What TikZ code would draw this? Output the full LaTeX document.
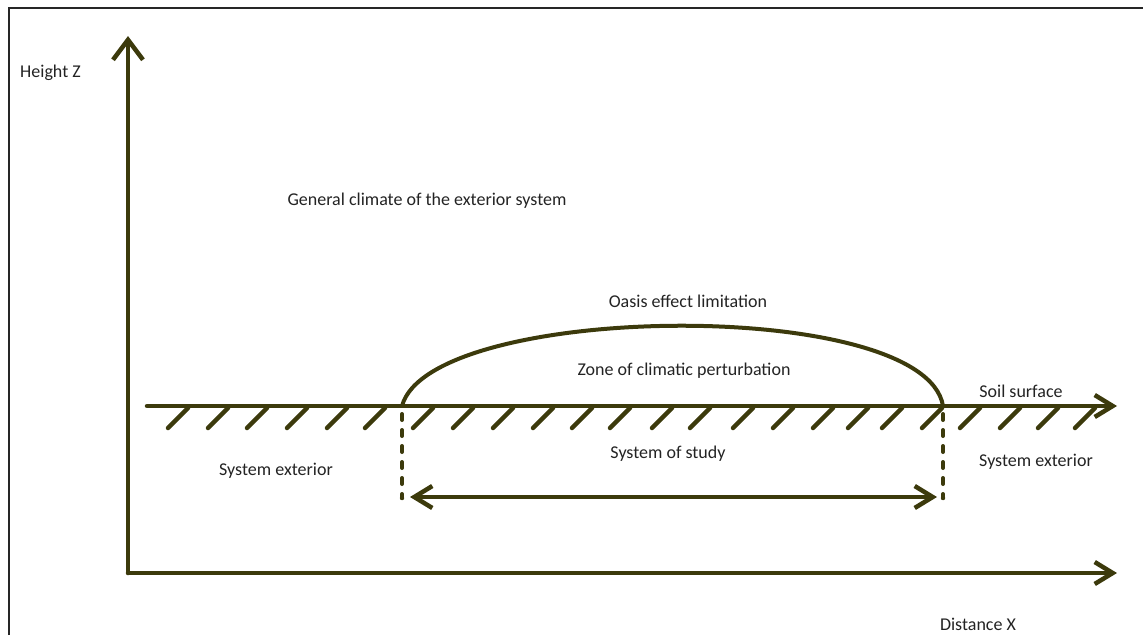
\documentclass[tikz,border=0pt]{standalone}
\usepackage{fontspec}
\setmainfont{Carlito}
\usetikzlibrary{arrows.meta}
\definecolor{olive}{RGB}{60,58,12}
\definecolor{txt}{RGB}{35,35,35}
\tikzset{
  x=1pt, y=-1pt,
  axis/.style={draw=olive, line width=4.5pt, line cap=round, line join=round},
  bigtip/.style={-{Straight Barb[length=20pt,width=30pt]}},
  tip/.style={-{Straight Barb[length=18pt,width=22pt]}},
  hatch/.style={draw=olive, line width=4.5pt, line cap=round},
  dashv/.style={draw=olive, line width=4pt, line cap=round, dash pattern=on 6pt off 10pt},
  lbl/.style={font=\fontsize{18}{21}\selectfont, text=txt, inner sep=0pt},
  frame/.style={draw=black!85, line width=2pt}
}
\begin{document}
\begin{tikzpicture}
\useasboundingbox (0,0) rectangle (1143,635);
% frame
\coordinate (F1) at (9,635);
\coordinate (F2) at (9,8);
\coordinate (F3) at (1143,8);
\draw[frame] (F1) -- (F2) -- (F3);
% axes
\coordinate (O) at (128,573);
\coordinate (Ytop) at (128,36);
\coordinate (Xend) at (1117,573);
\draw[axis, bigtip] (O) -- (Ytop);
\draw[axis, tip] (O) -- (Xend);
% soil surface
\coordinate (S0) at (147,406);
\coordinate (S1) at (1117,406);
\draw[axis, tip] (S0) -- (S1);
% hatches
\foreach \x in {188,228,267,307,347,385,433,473,513,553,592,630,672,710,753,793,833,868,902,942,980,1020,1058,1095}
  \draw[hatch] (\x,408) -- ++(-20,20);
% oasis arc
\coordinate (A) at (402,406);
\coordinate (B) at (943,406);
\draw[axis, line width=4pt] (A) .. controls (430,302) and (925,296) .. (B);
% dashed verticals
\coordinate (A2) at (402,414);
\coordinate (B2) at (943,414);
\coordinate (Ad) at (402,498);
\coordinate (Bd) at (943,498);
\draw[dashv] (A2) -- (Ad);
\draw[dashv] (B2) -- (Bd);
\fill[olive] (Ad) circle (2.2pt);
\fill[olive] (Bd) circle (2.2pt);
% double arrow
\coordinate (L) at (410,497);
\coordinate (R) at (937,497);
\draw[axis, {Straight Barb[length=18pt,width=22pt]}-{Straight Barb[length=18pt,width=22pt]}] (L) -- (R);
% labels
\node[lbl, anchor=west] (hz) at (20,73) {Height Z};
\node[lbl] (gc) at (427,201) {General climate of the exterior system};
\node[lbl] (oe) at (688,301) {Oasis effect limitation};
\node[lbl] (zc) at (684,371) {Zone of climatic perturbation};
\node[lbl] (ss) at (1021,391) {Soil surface};
\node[lbl] (st) at (668,454) {System of study};
\node[lbl] (se1) at (276,471) {System exterior};
\node[lbl] (se2) at (1036,462) {System exterior};
\node[lbl] (dx) at (978,624) {Distance X};
\end{tikzpicture}
\end{document}
